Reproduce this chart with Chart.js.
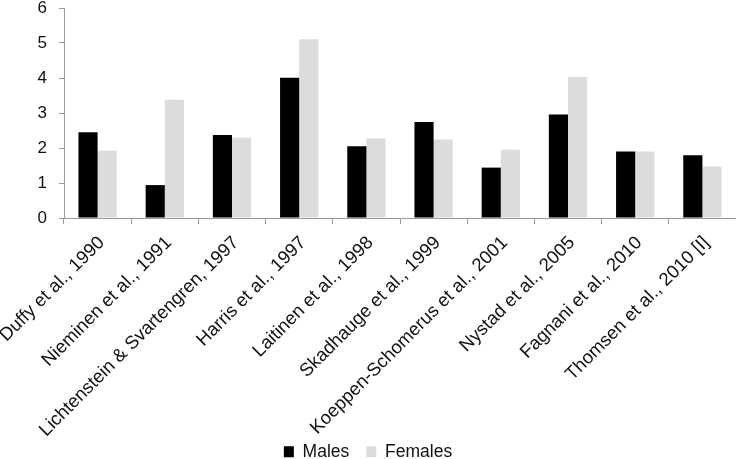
<!DOCTYPE html>
<html>
<head>
<meta charset="utf-8">
<script src="https://cdn.jsdelivr.net/npm/chart.js@4"></script>
<style>
  html, body { margin: 0; padding: 0; background: #ffffff; }
  #wrap { width: 736px; height: 459px; position: relative; }
</style>
</head>
<body>
<div id="wrap"><canvas id="c"></canvas></div>
<script>
const categories = [
  "Duffy et al., 1990",
  "Nieminen et al., 1991",
  "Lichtenstein & Svartengren, 1997",
  "Harris et al., 1997",
  "Laitinen et al., 1998",
  "Skadhauge et al., 1999",
  "Koeppen-Schomerus et al., 2001",
  "Nystad et al., 2005",
  "Fagnani et al., 2010",
  "Thomsen et al., 2010 [I]"
];
const males   = [2.45, 0.94, 2.37, 4.01, 2.05, 2.74, 1.44, 2.96, 1.90, 1.79];
const females = [1.92, 3.38, 2.29, 5.11, 2.27, 2.24, 1.95, 4.03, 1.90, 1.47];
const yTicks  = [0, 1, 2, 3, 4, 5, 6];

const axisColor = '#9a9a9a';
const fontFamily = '"Liberation Sans", Arial, Helvetica, sans-serif';

new Chart(document.getElementById('c'), {
  type: 'bar',
  data: {
    labels: categories,
    datasets: [
      { label: 'Males', data: males, backgroundColor: '#000000', borderWidth: 0 },
      { label: 'Females', data: females, backgroundColor: '#dcdcdc', borderWidth: 0 }
    ]
  },
  options: {
    responsive: true,
    maintainAspectRatio: false,
    animation: false,
    layout: { padding: { top: 0, right: 0, bottom: 0, left: 0 } },
    datasets: { bar: { categoryPercentage: 0.57, barPercentage: 1.0 } },
    plugins: {
      legend: {
        position: 'bottom',
        fullSize: true,
        maxHeight: 33,
        labels: {
          font: { family: fontFamily, size: 17.5 },
          color: '#111111',
          boxWidth: 10,
          boxHeight: 11,
          padding: 17
        }
      },
      tooltip: { enabled: false }
    },
    scales: {
      x: {
        grid: { display: true, drawOnChartArea: false, drawTicks: true, tickLength: 6, color: axisColor, offset: true },
        border: { display: true, color: axisColor, width: 1 },
        ticks: {
          autoSkip: false,
          maxRotation: 45,
          minRotation: 45,
          padding: 8,
          labelOffset: 4,
          color: '#111111',
          font: { family: fontFamily, size: 18.5 }
        },
        afterFit: (s) => {
          s.height = 208;
          s.paddingLeft = 0;
          s.paddingRight = 0;
          s._computeLabelArea = () => null;
        }
      },
      y: {
        min: 0,
        max: 6,
        afterBuildTicks: (s) => { s.ticks = yTicks.map(v => ({ value: v })); },
        grid: { display: true, drawOnChartArea: false, drawTicks: true, tickLength: 5, color: axisColor },
        border: { display: true, color: axisColor, width: 1 },
        ticks: {
          padding: 12,
          color: '#111111',
          font: { family: fontFamily, size: 17 }
        },
        afterFit: (s) => { s.width = 64; s.paddingTop = 8; s.paddingBottom = 0; }
      }
    }
  }
});
</script>
</body>
</html>
